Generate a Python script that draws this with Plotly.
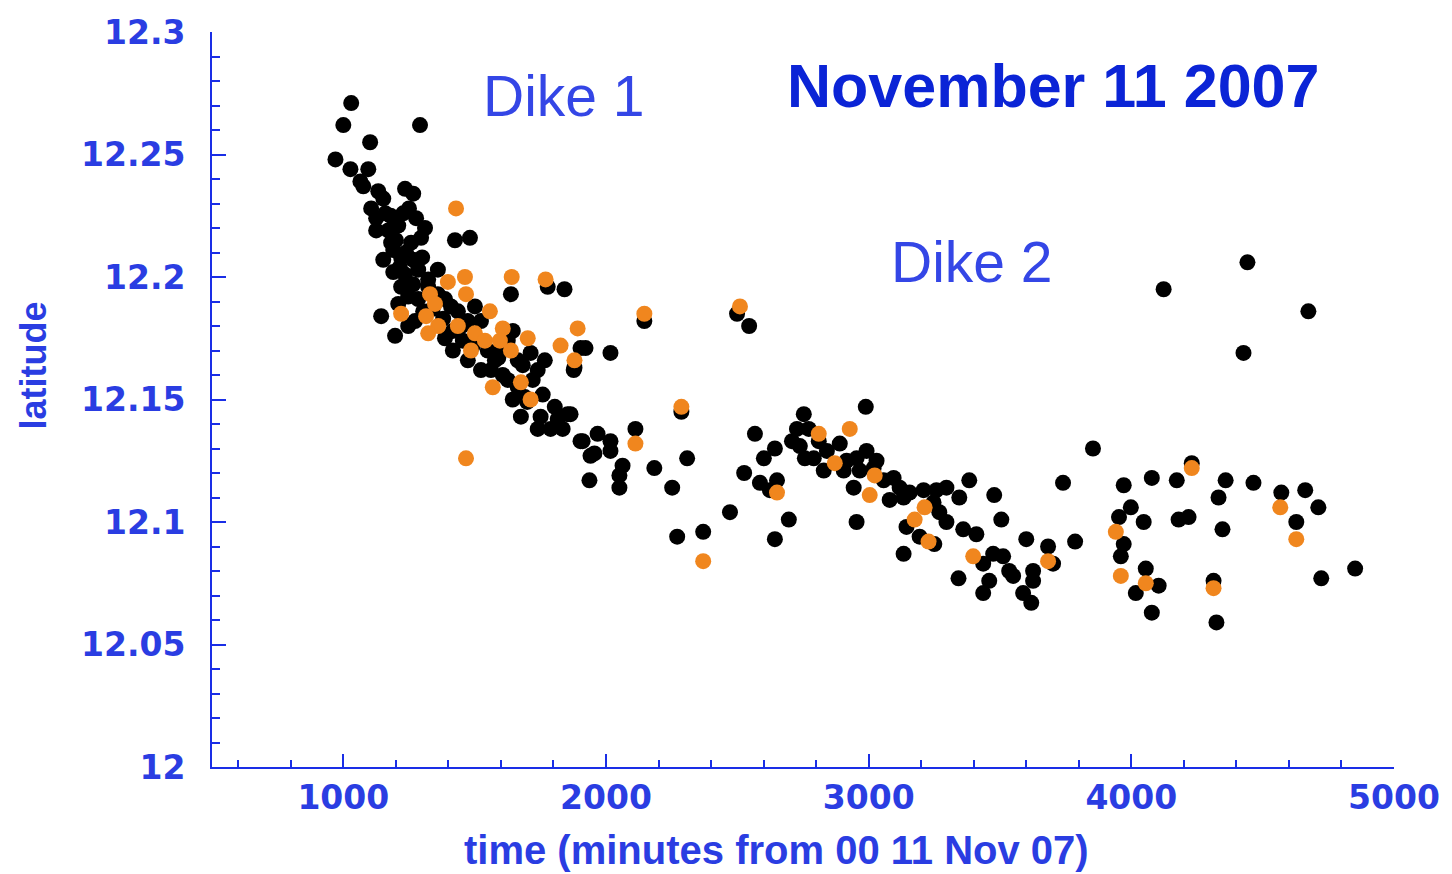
import plotly.graph_objects as go

# Earthquake epicentre latitudes vs. time, 11 Nov 2007 dike intrusion sequence
black_time = [
    970, 1000, 1030, 1102, 1292, 1027, 1095, 1065, 1235, 1266, 1152, 1106, 1125, 1228, 1277,
    1311, 1125, 1182, 1258, 1296, 1239, 1220, 1266, 1425, 1482, 1360, 1190, 1235, 1220, 1247,
    1209, 1323, 1144, 1197, 1247, 1273, 1387, 1410, 1501, 1524, 1638, 1842, 1778, 1387, 1474,
    1524, 1577, 1600, 1664, 1713, 1767, 1740, 1903, 1880, 1664, 1691, 1676, 1751, 1805, 1854,
    1789, 1903, 1968, 1956, 1562, 1922, 2017, 1877, 2146, 2545, 2499, 1865, 1911, 2017, 2017,
    2112, 1941, 2063, 2051, 2184, 2309, 1937, 2051, 2252, 2472, 2271, 2370, 2287,
    1076, 1133, 1171, 1209, 1190, 1152, 1285, 1323, 1266, 1360, 1436, 1474, 1417, 1493, 1645,
    1683, 1721, 1626, 1759, 1816, 1740, 1835, 1285, 1304, 1380, 1417, 1455, 1550, 1626, 1607,
    1645, 1160, 1200, 1250, 1180, 1215, 1300, 1340, 1450, 1590, 1700,
    2567, 2643, 2601, 2526, 2586, 2624, 2651, 2696, 2643, 2989, 2753, 2727, 2772, 2738, 2791,
    2841, 2890, 2829, 2905, 2954, 2992, 3030, 2966, 3019, 2943, 3057, 3095, 3118, 3080, 3133,
    3156, 3209, 3258, 3296, 3247, 3269, 3144, 3194, 3250, 3296, 3360, 3410, 3383, 3345, 3478,
    3505, 2954, 3133, 3342, 3436, 3474, 3512, 3535, 3459, 3436, 3600, 3683, 3702, 3786, 3550,
    3626, 3626, 3588, 3619, 3740, 3854, 3971, 4078, 4173, 4230, 4359, 4465, 4571, 4662, 4712,
    4332, 4347, 4180, 4218, 3998, 3953, 4047, 3971, 3960, 4055, 4104, 4017, 4078, 4313, 4324,
    4723, 4852, 4628, 4442, 4123, 4674, 4427, 2757, 2708, 2916, 2810,
]
black_lat = [
    12.248, 12.262, 12.271, 12.255, 12.262, 12.244, 12.244, 12.239, 12.236, 12.234, 12.232, 12.228, 12.224, 12.226, 12.224,
    12.220, 12.219, 12.214, 12.214, 12.216, 12.210, 12.208, 12.207, 12.215, 12.216, 12.203, 12.202, 12.201, 12.196, 12.192,
    12.189, 12.196, 12.184, 12.176, 12.180, 12.182, 12.191, 12.188, 12.188, 12.182, 12.193, 12.195, 12.196, 12.175, 12.166,
    12.162, 12.166, 12.170, 12.166, 12.169, 12.166, 12.162, 12.171, 12.163, 12.155, 12.151, 12.143, 12.143, 12.147, 12.144,
    12.138, 12.133, 12.136, 12.128, 12.162, 12.171, 12.169, 12.162, 12.182, 12.180, 12.185, 12.144, 12.133, 12.133, 12.129,
    12.138, 12.127, 12.123, 12.119, 12.122, 12.126, 12.117, 12.114, 12.114, 12.104, 12.094, 12.096, 12.145,
    12.237, 12.235, 12.219, 12.221, 12.211, 12.207, 12.203, 12.199, 12.197, 12.193, 12.186, 12.182, 12.170, 12.172, 12.178,
    12.164, 12.158, 12.158, 12.152, 12.142, 12.138, 12.138, 12.191, 12.186, 12.183, 12.178, 12.174, 12.170, 12.174, 12.160,
    12.150, 12.226, 12.215, 12.228, 12.225, 12.204, 12.208, 12.187, 12.180, 12.167, 12.149,
    12.136, 12.130, 12.126, 12.120, 12.116, 12.113, 12.117, 12.101, 12.093, 12.147, 12.144, 12.138, 12.138, 12.131, 12.126,
    12.129, 12.132, 12.121, 12.121, 12.126, 12.129, 12.125, 12.121, 12.122, 12.114, 12.117, 12.118, 12.114, 12.109, 12.110,
    12.112, 12.113, 12.113, 12.114, 12.108, 12.104, 12.098, 12.094, 12.091, 12.100, 12.097, 12.095, 12.117, 12.110, 12.111,
    12.101, 12.100, 12.087, 12.077, 12.083, 12.087, 12.086, 12.080, 12.076, 12.071, 12.093, 12.090, 12.083, 12.092, 12.078,
    12.080, 12.076, 12.071, 12.067, 12.116, 12.130, 12.115, 12.118, 12.117, 12.124, 12.117, 12.116, 12.112, 12.113, 12.106,
    12.110, 12.097, 12.101, 12.102, 12.106, 12.102, 12.100, 12.091, 12.086, 12.081, 12.074, 12.071, 12.063, 12.076, 12.059,
    12.077, 12.081, 12.100, 12.206, 12.195, 12.186, 12.169, 12.126, 12.133, 12.125, 12.133,
]

orange_time = [
    1429, 1463, 1398, 1641, 1770, 1330, 1467, 1349, 1220, 1315, 1361, 1323, 1436, 1558, 1501,
    1539, 1607, 1596, 1486, 1638, 1702, 1569, 1676, 1713, 1892, 1827, 1880, 1467, 2146, 2510,
    2112, 2287, 2370,
    2810, 2928, 2871, 3023, 3004, 2651, 3213, 3175, 3228, 3398, 3683, 3941, 3960, 4055, 4230,
    4313, 4567, 4628,
]
orange_lat = [
    12.228, 12.200, 12.198, 12.200, 12.199, 12.193, 12.193, 12.189, 12.185, 12.184, 12.180, 12.177, 12.180, 12.186, 12.177,
    12.174, 12.179, 12.174, 12.170, 12.170, 12.175, 12.155, 12.157, 12.150, 12.179, 12.172, 12.166, 12.126, 12.185, 12.188,
    12.132, 12.147, 12.084,
    12.136, 12.138, 12.124, 12.119, 12.111, 12.112, 12.106, 12.101, 12.092, 12.086, 12.084, 12.096, 12.078, 12.075, 12.122,
    12.073, 12.106, 12.093,
]

y_tickvals = [12.0, 12.05, 12.1, 12.15, 12.2, 12.25, 12.3]
y_ticktext = ["12", "12.05", "12.1", "12.15", "12.2", "12.25", "12.3"]
x_tickvals = [1000, 2000, 3000, 4000, 5000]
x_ticktext = ["1000", "2000", "3000", "4000", "5000"]

AXIS_BLUE = "#1a2ee6"
LABEL_BLUE = "#2a3de2"
FONT = "Liberation Sans"
TICK_FONT = "DejaVu Sans"

fig = go.Figure()
fig.add_trace(go.Scatter(
    x=black_time, y=black_lat, mode="markers",
    marker=dict(color="#000000", size=16, line=dict(width=0)),
    hoverinfo="x+y", showlegend=False,
))
fig.add_trace(go.Scatter(
    x=orange_time, y=orange_lat, mode="markers",
    marker=dict(color="#f0861e", size=16, line=dict(width=0)),
    hoverinfo="x+y", showlegend=False,
))

axis_common = dict(
    showgrid=False, zeroline=False, showline=True, linecolor=AXIS_BLUE, linewidth=2,
    ticks="inside", tickcolor=AXIS_BLUE, tickwidth=2,
    tickfont=dict(family=TICK_FONT, size=33, color=LABEL_BLUE, weight="bold"),
)

fig.update_xaxes(
    range=[500, 5000], tickmode="array", tickvals=x_tickvals, ticktext=x_ticktext,
    ticklen=13, ticklabelstandoff=0,
    minor=dict(ticks="inside", dtick=200, tick0=0, ticklen=7, tickcolor=AXIS_BLUE, tickwidth=2),
    **axis_common,
)
fig.update_yaxes(
    range=[12.0, 12.3], tickmode="array", tickvals=y_tickvals, ticktext=y_ticktext,
    ticklen=14, ticklabelstandoff=18,
    minor=dict(ticks="inside", dtick=0.01, tick0=12.0, ticklen=8, tickcolor=AXIS_BLUE, tickwidth=2),
    **axis_common,
)

fig.add_annotation(text="Dike 1", x=1839, y=12.274, xref="x", yref="y", showarrow=False,
                   font=dict(family=FONT, size=57, color="#3446e6"))
fig.add_annotation(text="Dike 2", x=3395, y=12.206, xref="x", yref="y", showarrow=False,
                   font=dict(family=FONT, size=57, color="#3446e6"))
fig.add_annotation(text="November 11 2007", x=3700, y=12.278, xref="x", yref="y", showarrow=False,
                   font=dict(family=FONT, size=61, color="#0b24d6", weight="bold"))
fig.add_annotation(text="time (minutes from 00 11 Nov 07)", x=0.478, y=-0.113,
                   xref="paper", yref="paper", xanchor="center", yanchor="middle",
                   showarrow=False,
                   font=dict(family=FONT, size=40, color=LABEL_BLUE, weight="bold"))
fig.add_annotation(text="latitude", x=-0.151, y=0.5456, xref="paper", yref="paper",
                   xanchor="center", yanchor="middle", showarrow=False, textangle=-90,
                   font=dict(family=FONT, size=36, color=LABEL_BLUE, weight="bold"))

fig.update_layout(
    width=1452, height=874,
    margin=dict(l=212, r=55, t=32, b=107),
    paper_bgcolor="white", plot_bgcolor="white",
)

fig.write_html("out.html")
